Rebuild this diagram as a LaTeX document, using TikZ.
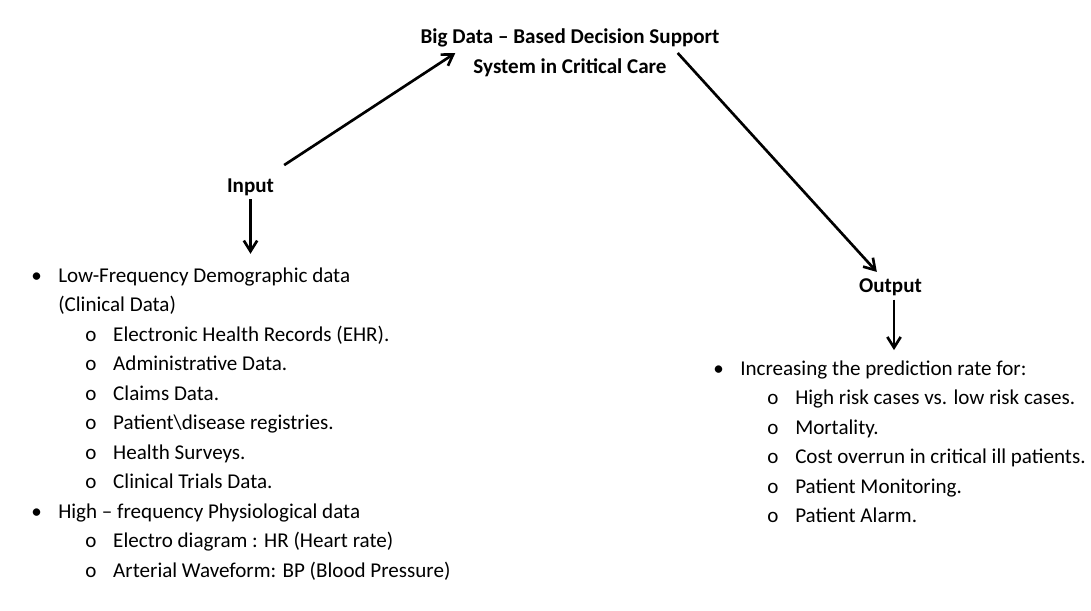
\documentclass[tikz,border=0pt]{standalone}
\usepackage{fontspec}
\setmainfont{Carlito}
\usetikzlibrary{arrows.meta}

% list entries: bullet, continuation line, sub-bullet
\newcommand{\lvone}[1]{\makebox[20.25pt][l]{\textbullet}#1}
\newcommand{\lvcont}[1]{\hspace{20.25pt}#1}
\newcommand{\lvtwo}[1]{\hspace{40.5pt}\makebox[21pt][l]{o}#1}

\begin{document}
\begin{tikzpicture}[
  x=0.75pt, y=-0.75pt,
  every node/.style={inner sep=0pt, font=\fontsize{15.8}{19}\selectfont},
  head/.style={font=\fontsize{15.8}{22.5}\selectfont\bfseries, align=center},
  item/.style={anchor=base west},
  arr/.style={line width=2pt, -{Straight Barb[length=8pt,width=10pt]}}
]
\useasboundingbox (0,0) rectangle (1091,610);

% ---- heading and the two labels
\node[head] (title) at (570,53) {Big Data – Based Decision Support\\System in Critical Care};
\node[head, anchor=base] (input)  at (250.5,192) {Input};
\node[head, anchor=base] (output) at (890.5,292) {Output};

% ---- what goes in
\foreach \entry [count=\i from 0] in {
  {\lvone{Low-Frequency Demographic data}},
  {\lvcont{(Clinical Data)}},
  {\lvtwo{Electronic Health Records (EHR).}},
  {\lvtwo{Administrative Data.}},
  {\lvtwo{Claims Data.}},
  {\lvtwo{Patient\textbackslash disease registries.}},
  {\lvtwo{Health Surveys.}},
  {\lvtwo{Clinical Trials Data.}},
  {\lvone{High – frequency Physiological data}},
  {\lvtwo{Electro diagram : HR (Heart rate)}},
  {\lvtwo{Arterial Waveform: BP (Blood Pressure)}}}
  \node[item] (in\i) at (31,282+29.5*\i) {\entry};

% ---- what comes out
\foreach \entry [count=\i from 0] in {
  {\lvone{Increasing the prediction rate for:}},
  {\lvtwo{High risk cases vs. low risk cases.}},
  {\lvtwo{Mortality.}},
  {\lvtwo{Cost overrun in critical ill patients.}},
  {\lvtwo{Patient Monitoring.}},
  {\lvtwo{Patient Alarm.}}}
  \node[item] (out\i) at (713,375+29.5*\i) {\entry};

% ---- arrows
\draw[arr] ([shift={(10,-13)}]input.north east) -- ([shift={(35,0)}]title.west);
\draw[arr] ([shift={(-42,0)}]title.east) -- ([shift={(18,-6)}]output.north west);
\draw[arr, shorten <=2.6pt, shorten >=10pt] (input.south) -- (input.south |- in0.north);
\draw[arr, shorten <=3pt, shorten >=7.5pt] ([shift={(3.5,0)}]output.south) -- ([shift={(3.5,0)}]output.south |- out0.north);

\end{tikzpicture}
\end{document}
